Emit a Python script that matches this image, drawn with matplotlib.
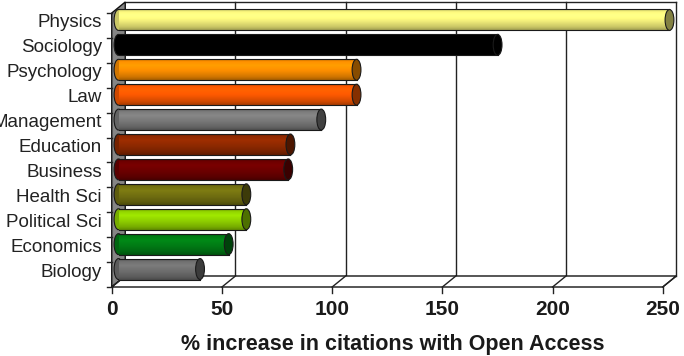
import numpy as np
import matplotlib
matplotlib.use('Agg')
import matplotlib.pyplot as plt
from matplotlib.patches import Polygon, Ellipse
from matplotlib.colors import to_rgb

# data (top to bottom as in the chart)
subjects = ['Physics', 'Sociology', 'Psychology', 'Law', 'Management', 'Education',
            'Business', 'Health Sci', 'Political Sci', 'Economics', 'Biology']
increase = [250, 172, 108, 108, 92, 78, 77, 58, 58, 50, 37]
bar_colors = ['#EEEA78', '#000000', '#F58A00', '#F25500', '#767676', '#8A2800',
              '#6A0000', '#6E6C10', '#8CCB00', '#007814', '#6C6C6C']
xticks = [0, 50, 100, 150, 200, 250]
xlabel = '% increase in citations with Open Access'

plt.rcParams['font.family'] = ['Liberation Sans', 'DejaVu Sans']

fig = plt.figure(figsize=(6.84, 3.56), dpi=100)
# axes = the mid-depth plane of the 3D box
ax = fig.add_axes([118.5 / 684, 74.5 / 356, 551 / 684, 274 / 356])
ax.axis('off')

XMAX = 250
n = len(subjects)
ypos = np.arange(n)[::-1]
y0, y1 = -0.5, n - 0.5
DX = 6.75 / 2.204   # half depth in data units
DY = 5.5 / 24.9


def front(x, y):
    return (x - DX, y - DY)


def back(x, y):
    return (x + DX, y + DY)


line_kw = dict(color='#222222', lw=1.0, clip_on=False)

# back wall
for v in xticks[1:]:
    ax.plot(*zip(back(v, y0), back(v, y1)), zorder=1, **line_kw)
ax.plot(*zip(back(0, y1), back(XMAX, y1)), zorder=1, **line_kw)

# left wall
ax.add_patch(Polygon([front(0, y0), front(0, y1), back(0, y1), back(0, y0)],
                     closed=True, facecolor='#858585', edgecolor='#111111', lw=1.0,
                     zorder=2, clip_on=False))
# floor
ax.add_patch(Polygon([front(0, y0), front(XMAX, y0), back(XMAX, y0), back(0, y0)],
                     closed=True, facecolor='white', edgecolor='#111111', lw=1.0,
                     zorder=2, clip_on=False))

# x ticks on the floor
for v in xticks:
    ax.plot(*zip(front(v, y0), back(v, y0)), zorder=2, **line_kw)
    fx, fy = front(v, y0)
    ax.plot([fx, fx], [fy, fy - 0.24], zorder=2, **line_kw)
    ax.text(fx, -1.85, str(v), ha='center', va='baseline', fontsize=15,
            fontweight='bold', color='#1a1a1a')

# y ticks on the front left edge
for k in np.arange(y0, y1 + 0.01, 1.0):
    fx, fy = front(0, k)
    ax.plot([fx - 2.2, fx], [fy, fy], zorder=2, **line_kw)

# cylinder bars
h = 0.84
t = np.linspace(0, 1, 60)
shade = np.interp(t, [0, 0.12, 0.3, 0.6, 0.85, 1], [0.85, 1.05, 1.15, 1.0, 0.85, 0.68])
ax.barh(ypos, increase, height=h, color=bar_colors, edgecolor='none', zorder=3)
for yc, v, c in zip(ypos, increase, bar_colors):
    base = np.array(to_rgb(c))
    img = np.clip(base[None, :] * shade[:, None], 0, 1)
    ax.imshow(img[:, None, :], extent=[0, v, yc - h / 2, yc + h / 2], aspect='auto',
              interpolation='bilinear', zorder=3.1)
    ax.plot([0, v], [yc + h / 2, yc + h / 2], color='#1a1a1a', lw=0.8, zorder=3.2)
    ax.plot([0, v], [yc - h / 2, yc - h / 2], color='#1a1a1a', lw=0.8, zorder=3.2)
    ax.add_patch(Ellipse((0, yc), 4.0, h, facecolor=base * 0.85, edgecolor='#1a1a1a',
                         lw=0.8, zorder=2.9, clip_on=False))
    ax.add_patch(Ellipse((v, yc), 4.0, h, facecolor=base * 0.55, edgecolor='#1a1a1a',
                         lw=0.8, zorder=3.3, clip_on=False))

# category labels
for yc, s in zip(ypos, subjects):
    ax.text(-7.5, yc - 0.3, s, ha='right', va='baseline', fontsize=13.5, color='#222222')

ax.text(124.5, -3.27, xlabel, ha='center', va='baseline', fontsize=15.5,
        fontweight='bold', color='#1a1a1a')

ax.set_xlim(0, XMAX)
ax.set_ylim(y0, y1)
fig.savefig('out.png', dpi=100)
